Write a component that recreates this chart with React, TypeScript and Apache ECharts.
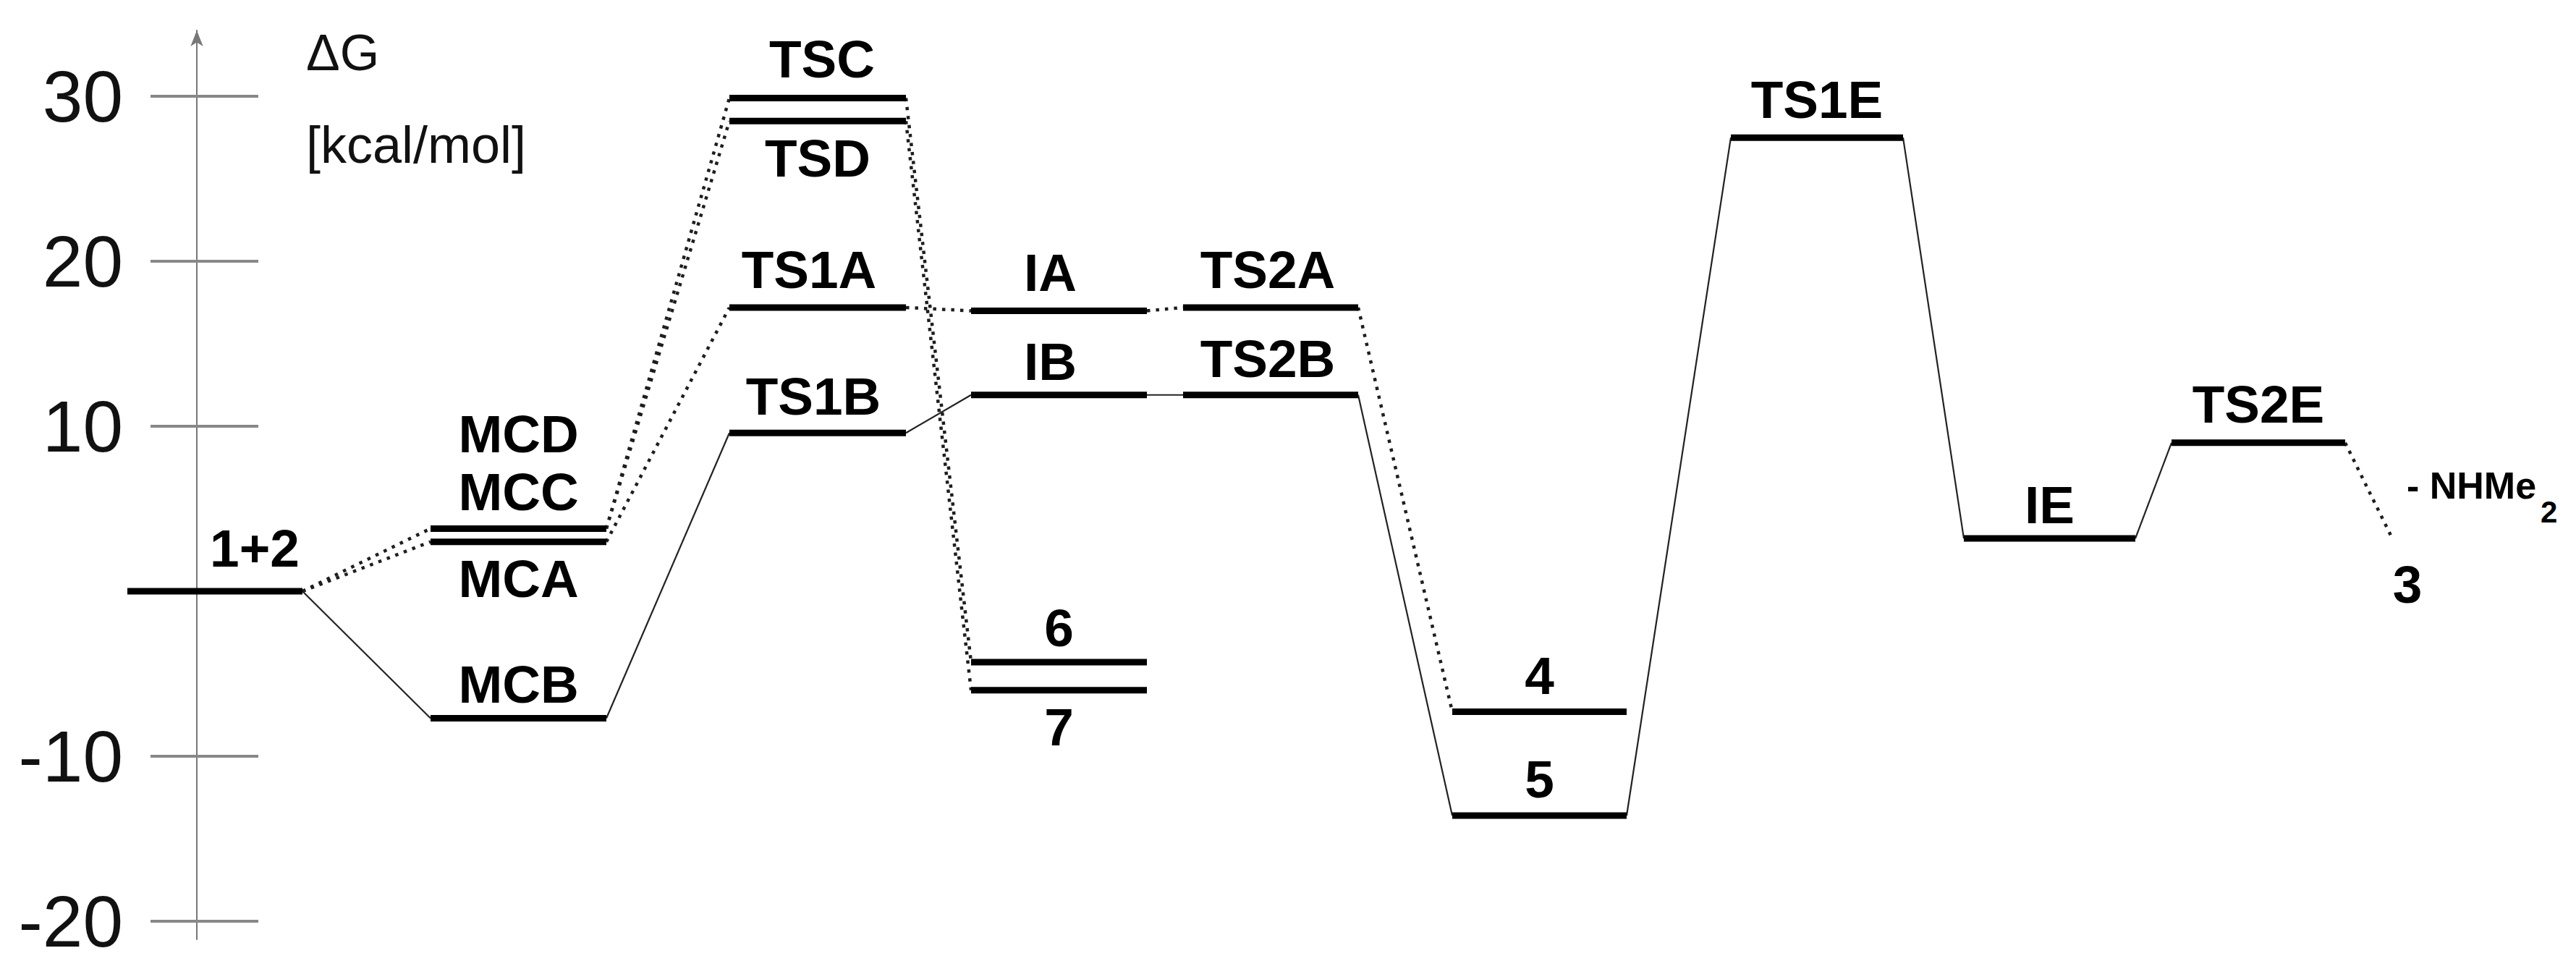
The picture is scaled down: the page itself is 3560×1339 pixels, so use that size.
import { useEffect, useRef } from "react";
import * as echarts from "echarts";

// ---------------- data ----------------
const stateNames = [
  "1+2", "MCD", "MCC", "MCA", "MCB",
  "TSC", "TSD", "TS1A", "TS1B",
  "IA", "IB", "6", "7",
  "TS2A", "TS2B", "4", "5",
  "TS1E", "IE", "TS2E", "3",
];
// ΔG in kcal/mol
const stateEnergies = [
  0, 3.8, 3.8, 3.0, -7.7,
  29.9, 28.5, 17.2, 9.6,
  17.0, 11.9, -4.3, -6.0,
  17.2, 11.9, -7.3, -13.6,
  27.5, 3.2, 9.0, 3.3,
];
// reaction step (column) of each state
const stateStep = [0, 1, 1, 1, 1, 2, 2, 2, 2, 3, 3, 3, 3, 4, 4, 5, 5, 6, 7, 8, 9];

const solidPaths = [
  ["1+2", "MCB"], ["MCB", "TS1B"], ["TS1B", "IB"], ["IB", "TS2B"], ["TS2B", "5"],
  ["5", "TS1E"], ["TS1E", "IE"], ["IE", "TS2E"],
];
const dottedPaths = [
  ["1+2", "MCC"], ["1+2", "MCA"], ["MCD", "TSD"], ["MCC", "TSC"], ["MCA", "TS1A"],
  ["TSC", "6"], ["TSD", "7"], ["TS1A", "IA"], ["IA", "TS2A"], ["TS2A", "4"], ["TS2E", "3"],
];
const yTickValues = [-20, -10, 10, 20, 30];
const yTitle = "ΔG";
const yUnit = "[kcal/mol]";
const productNote = "- NHMe";
const productNoteSub = "2";

// ---------------- layout ----------------
const stepStart = [1.76, 5.95, 10.08, 13.42, 16.35, 20.07, 23.92, 27.14, 30.01, 33.05];
const stepWidth = [2.42, 2.43, 2.44, 2.43, 2.42, 2.41, 2.38, 2.37, 2.4, 0];
// label offset in px from level centre: [dx, dy]
const labelOffset: Record<string, [number, number]> = {
  "1+2": [55, -60], MCD: [0, -131], MCC: [0, -51], MCA: [0, 51], MCB: [0, -47],
  TSC: [6, -54], TSD: [0, 51], TS1A: [-12, -52], TS1B: [-6, -51],
  IA: [-12, -53], IB: [-12, -46], "6": [0, -48], "7": [0, 51],
  TS2A: [-4, -52], TS2B: [-4, -50], "4": [0, -50], "5": [0, -51],
  TS1E: [0, -53], IE: [0, -47], TS2E: [0, -53], "3": [22, 66],
};
const FONT = '"Liberation Sans", Arial, Helvetica, sans-serif';
const Y_MIN = -21.1;
const Y_MAX = 34.0;

const idx = (n: string) => stateNames.indexOf(n);
const leftX = (i: number) => stepStart[stateStep[i]];
const rightX = (i: number) => stepStart[stateStep[i]] + stepWidth[stateStep[i]];

const levelData = stateNames
  .map((_, i) => [leftX(i), rightX(i), stateEnergies[i], i])
  .filter((d) => stepWidth[stateStep[d[3] as number]] > 0);

const makePathData = (paths: string[][]) =>
  paths.map(([a, b]) => {
    const ia = idx(a);
    const ib = idx(b);
    return [rightX(ia), stateEnergies[ia], leftX(ib), stateEnergies[ib]];
  });

const labelData = stateNames.map((_, i) => [(leftX(i) + rightX(i)) / 2, stateEnergies[i], i]);

export default function App() {
  const ref = useRef<HTMLDivElement>(null);
  useEffect(() => {
    document.body.style.margin = "0";
    const chart = echarts.init(ref.current!, null, { renderer: "svg" });

    const connectorSeries = (data: number[][], dotted: boolean) => ({
      type: "custom",
      coordinateSystem: "cartesian2d",
      z: 1,
      clip: false,
      silent: true,
      data,
      renderItem: (_p: any, api: any) => {
        const a = api.coord([api.value(0), api.value(1)]);
        const b = api.coord([api.value(2), api.value(3)]);
        return {
          type: "line",
          shape: { x1: a[0], y1: a[1], x2: b[0], y2: b[1] },
          style: dotted
            ? { stroke: "#1e1e1e", lineWidth: 4.5, lineDash: [4.5, 8], lineCap: "butt" }
            : { stroke: "#222", lineWidth: 2.2 },
        };
      },
    });

    const option: any = {
      animation: false,
      backgroundColor: "#ffffff",
      grid: { left: 0, right: 0, top: 42, bottom: 41, containLabel: false, outerBoundsMode: "none" },
      xAxis: { type: "value", min: 0, max: 35.6, show: false },
      yAxis: [
        {
          type: "value",
          min: Y_MIN,
          max: Y_MAX,
          position: "left",
          offset: -272,
          axisLine: {
            show: true,
            onZero: false,
            symbol: ["none", "arrow"],
            symbolSize: [13, 22],
            lineStyle: { color: "#777", width: 2 },
          },
          axisTick: { show: true, customValues: yTickValues, length: 64, lineStyle: { color: "#888", width: 4 } },
          axisLabel: {
            show: true,
            customValues: yTickValues,
            margin: 102,
            fontSize: 100,
            color: "#111",
            fontFamily: FONT,
          },
          splitLine: { show: false },
        },
        {
          type: "value",
          min: Y_MIN,
          max: Y_MAX,
          position: "left",
          offset: -272,
          axisLine: { show: false, onZero: false },
          axisTick: {
            show: true,
            inside: true,
            customValues: yTickValues,
            length: 85,
            lineStyle: { color: "#888", width: 4 },
          },
          axisLabel: { show: false },
          splitLine: { show: false },
        },
      ],
      graphic: [
        {
          type: "text",
          x: 423,
          y: 73,
          style: { text: yTitle, fontSize: 70, fontFamily: FONT, fill: "#111", align: "left", verticalAlign: "middle" },
        },
        {
          type: "text",
          x: 423,
          y: 200,
          style: { text: yUnit, fontSize: 72, fontFamily: FONT, fill: "#111", align: "left", verticalAlign: "middle" },
        },
      ],
      series: [
        connectorSeries(makePathData(solidPaths), false),
        connectorSeries(makePathData(dottedPaths), true),
        {
          type: "custom",
          coordinateSystem: "cartesian2d",
          z: 2,
          clip: false,
          silent: true,
          data: levelData,
          renderItem: (_p: any, api: any) => {
            const a = api.coord([api.value(0), api.value(2)]);
            const b = api.coord([api.value(1), api.value(2)]);
            return {
              type: "line",
              shape: { x1: a[0], y1: a[1], x2: b[0], y2: b[1] },
              style: { stroke: "#000", lineWidth: 9 },
            };
          },
        },
        {
          type: "custom",
          coordinateSystem: "cartesian2d",
          z: 3,
          clip: false,
          silent: true,
          data: labelData,
          renderItem: (_p: any, api: any) => {
            const i = api.value(2);
            const name = stateNames[i];
            const p = api.coord([api.value(0), api.value(1)]);
            const [dx, dy] = labelOffset[name] || [0, -52];
            const children: any[] = [
              {
                type: "text",
                x: p[0] + dx,
                y: p[1] + dy,
                style: {
                  text: name,
                  fontSize: 73,
                  fontWeight: "bold",
                  fontFamily: FONT,
                  fill: "#000",
                  align: "center",
                  verticalAlign: "middle",
                },
              },
            ];
            if (stepWidth[stateStep[i]] === 0) {
              children.push(
                {
                  type: "text",
                  x: p[0] + 21,
                  y: p[1] - 71,
                  style: {
                    text: productNote,
                    fontSize: 52,
                    fontWeight: "bold",
                    fontFamily: FONT,
                    fill: "#000",
                    align: "left",
                    verticalAlign: "middle",
                  },
                },
                {
                  type: "text",
                  x: p[0] + 206,
                  y: p[1] - 34,
                  style: {
                    text: productNoteSub,
                    fontSize: 42,
                    fontWeight: "bold",
                    fontFamily: FONT,
                    fill: "#000",
                    align: "left",
                    verticalAlign: "middle",
                  },
                }
              );
            }
            return { type: "group", children };
          },
        },
      ],
    };

    chart.setOption(option);
    return () => chart.dispose();
  }, []);
  return <div ref={ref} style={{ width: 3560, height: 1339 }} />;
}
